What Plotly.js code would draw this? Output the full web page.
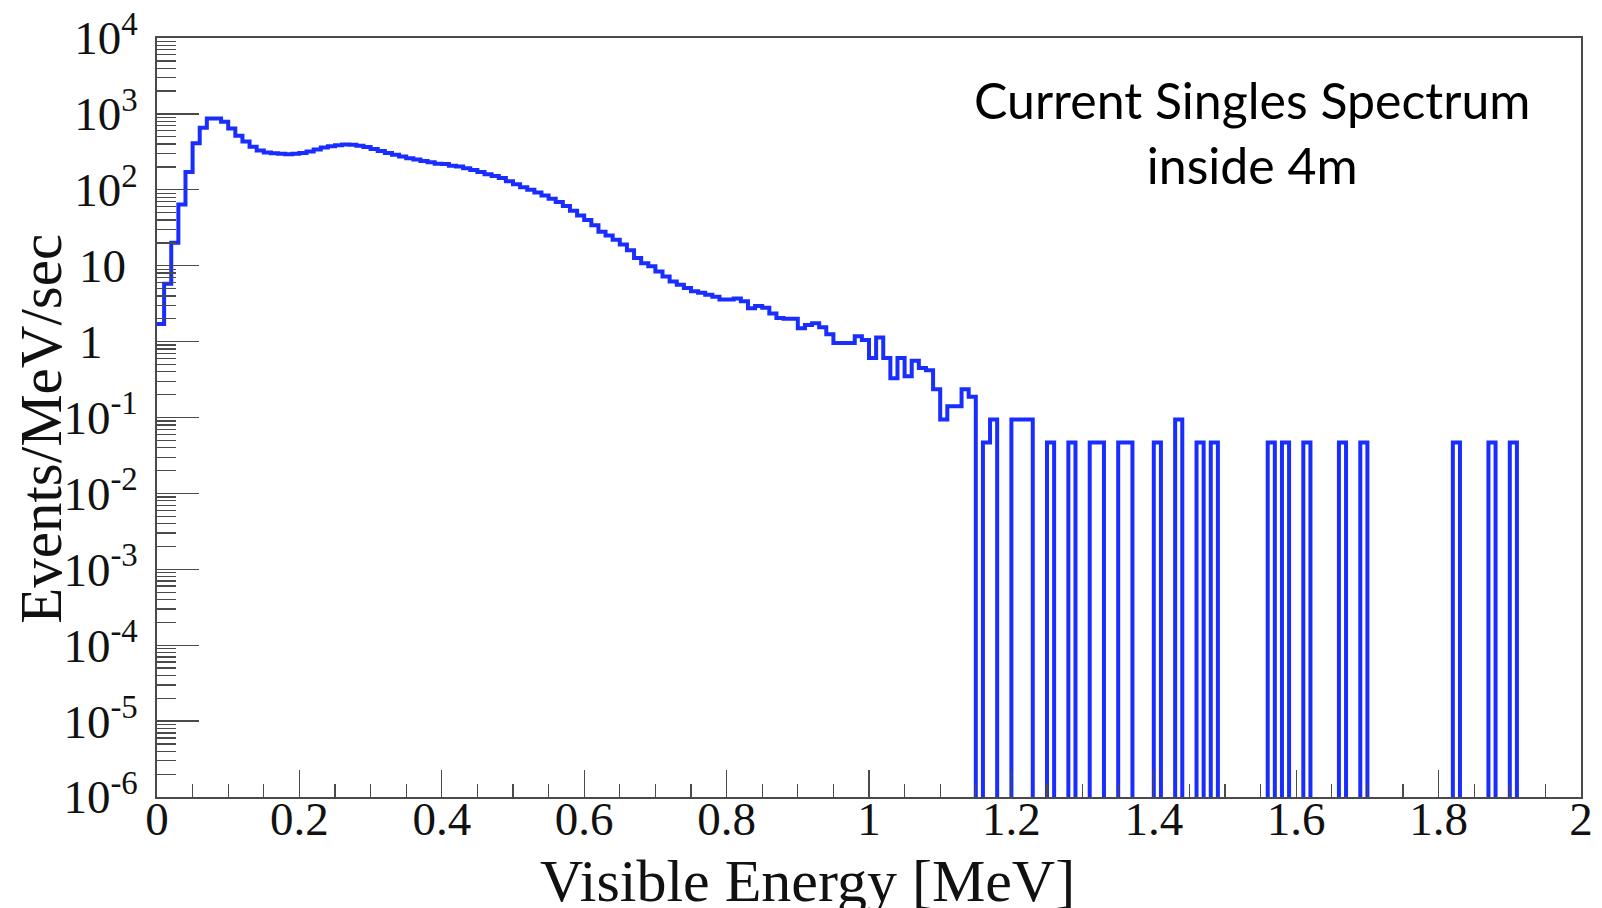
<!DOCTYPE html>
<html>
<head>
<meta charset="utf-8">
<script src="https://cdn.plot.ly/plotly-3.0.1.min.js"></script>
<style>
  html, body { margin: 0; padding: 0; background: #ffffff; }
  #chart { width: 1602px; height: 908px; }
</style>
</head>
<body>
<div id="chart"></div>
<script>
// ---- Histogram definition: 200 bins of 0.01 MeV from 0 to 2 MeV ----
const binLow = 0;
const binWidth = 0.01;

// Events/MeV/sec, bins 0-49 (0.00 - 0.50 MeV)
const rateLow = [
  1.7, 5.8, 20, 64, 172, 411, 655, 870, 870, 790,
  640, 515, 432, 370, 330, 310, 303, 298, 295, 298,
  305, 320, 340, 360, 375, 385, 395, 392, 380, 365,
  345, 325, 305, 290, 275, 260, 250, 240, 230, 220,
  218, 207, 203, 193, 183, 172, 160, 152, 143, 130
];
// bins 50-99 (0.50 - 1.00 MeV)
const rateMid = [
  118, 108, 100, 92, 84, 76, 69, 61, 53, 46,
  40, 34, 28, 25, 22, 19, 16, 12.6, 10.8, 9.8,
  8.4, 7.2, 6.2, 5.6, 5.1, 4.6, 4.4, 4.15, 3.9, 3.6,
  3.6, 3.7, 3.4, 2.75, 2.95, 2.8, 2.35, 2.05, 2.0, 2.0,
  1.5, 1.65, 1.75, 1.55, 1.25, 0.96, 0.96, 0.96, 1.18, 1.05
];
// bins 100-199 (1.00 - 2.00 MeV); 0 = empty bin
const rateHigh = [
  0.61, 1.13, 0.61, 0.33, 0.61, 0.35, 0.56, 0.45, 0.42, 0.235,
  0.094, 0.141, 0.141, 0.235, 0.188, 0, 0.047, 0.094, 0, 0,
  0.094, 0.094, 0.094, 0, 0, 0.047, 0, 0, 0.047, 0,
  0, 0.047, 0.047, 0, 0, 0.047, 0.047, 0, 0, 0,
  0.047, 0, 0, 0.094, 0, 0, 0.047, 0, 0.047, 0,
  0, 0, 0, 0, 0, 0, 0.047, 0, 0.047, 0,
  0, 0.047, 0, 0, 0, 0, 0.047, 0, 0, 0.047,
  0, 0, 0, 0, 0, 0, 0, 0, 0, 0,
  0, 0, 0.047, 0, 0, 0, 0, 0.047, 0, 0,
  0.047, 0, 0, 0, 0, 0, 0, 0, 0, 0
];

// Axis ticks
const NB = '\u00a0';
const xTickVals = [0, 0.2, 0.4, 0.6, 0.8, 1, 1.2, 1.4, 1.6, 1.8, 2];
const xTickText = ['0', '0.2', '0.4', '0.6', '0.8', '1', '1.2', '1.4', '1.6', '1.8', '2'];
const yTickVals = [1e-6, 1e-5, 1e-4, 1e-3, 1e-2, 1e-1, 1, 10, 1e2, 1e3, 1e4];
const yTickText = ['10<sup>-6</sup>', '10<sup>-5</sup>', '10<sup>-4</sup>', '10<sup>-3</sup>',
                   '10<sup>-2</sup>', '10<sup>-1</sup>', '1' + NB + NB + NB, '10' + NB,
                   '10<sup>2</sup>', '10<sup>3</sup>', '10<sup>4</sup>'];

// Texts
const xTitle = 'Visible Energy [MeV]';
const yTitle = 'Events/MeV/sec';
const noteText = 'Current Singles Spectrum<br>inside 4m';

// ---- Build step line from the bins ----
const rate = rateLow.concat(rateMid, rateHigh);
const floorVal = 1e-12; // empty bins drop below the visible range (log axis)
const edges = [];
const stepY = [];
for (let i = 0; i < rate.length; i++) {
  edges.push(binLow + i * binWidth);
  stepY.push(rate[i] > 0 ? rate[i] : floorVal);
}
edges.push(binLow + rate.length * binWidth);
stepY.push(stepY[stepY.length - 1]);

// minor log ticks (2..9 per decade)
const yMinor = [];
for (let d = -6; d < 4; d++) {
  for (let m = 2; m <= 9; m++) yMinor.push(m * Math.pow(10, d));
}

const serif = 'Liberation Serif, Times New Roman, serif';
const axisCol = '#4a4a4a';

const trace = {
  type: 'scatter',
  mode: 'lines',
  x: edges,
  y: stepY,
  line: { shape: 'hv', color: 'rgb(25,45,255)', width: 4, simplify: false },
  hoverinfo: 'skip'
};

const layout = {
  width: 1602,
  height: 908,
  margin: { l: 157, r: 21, t: 38, b: 111, pad: 0 },
  paper_bgcolor: '#ffffff',
  plot_bgcolor: '#ffffff',
  showlegend: false,
  xaxis: {
    range: [0, 2], autorange: false,
    tickmode: 'array', tickvals: xTickVals, ticktext: xTickText,
    ticks: 'inside', ticklen: 27, tickwidth: 1.3, tickcolor: axisCol,
    showline: true, linecolor: axisCol, linewidth: 1.8, mirror: true,
    showgrid: false, zeroline: false,
    tickfont: { family: serif, size: 47, color: '#111' },
    ticklabelstandoff: -20,
    minor: { tickmode: 'linear', tick0: 0, dtick: 0.05, ticks: 'inside', ticklen: 13,
             tickwidth: 1.3, tickcolor: axisCol, showgrid: false }
  },
  yaxis: {
    type: 'log', range: [-6, 4], autorange: false,
    tickmode: 'array', tickvals: yTickVals, ticktext: yTickText,
    ticks: 'inside', ticklen: 42, tickwidth: 1.3, tickcolor: axisCol,
    showline: true, linecolor: axisCol, linewidth: 1.8, mirror: true,
    showgrid: false, zeroline: false,
    tickfont: { family: serif, size: 47, color: '#111' },
    ticklabelstandoff: 8,
    minor: { tickmode: 'array', tickvals: yMinor, ticks: 'inside', ticklen: 19,
             tickwidth: 1.3, tickcolor: axisCol, showgrid: false }
  },
  annotations: [
    {
      text: noteText, xref: 'paper', yref: 'paper',
      x: 0.769, y: 0.8755, xanchor: 'center', yanchor: 'middle',
      showarrow: false, align: 'center',
      font: { family: 'Lato, Open Sans, sans-serif', size: 50, color: '#000' }
    },
    {
      text: xTitle, xref: 'paper', yref: 'paper',
      x: 0.4565, y: -0.111, xanchor: 'center', yanchor: 'middle',
      showarrow: false,
      font: { family: serif, size: 60, color: '#111' }
    },
    {
      text: yTitle, xref: 'paper', yref: 'paper', textangle: -90,
      x: -0.0815, y: 0.485, xanchor: 'center', yanchor: 'middle',
      showarrow: false,
      font: { family: serif, size: 59, color: '#111' }
    }
  ]
};

Plotly.newPlot('chart', [trace], layout, { displayModeBar: false, staticPlot: true });
</script>
</body>
</html>
